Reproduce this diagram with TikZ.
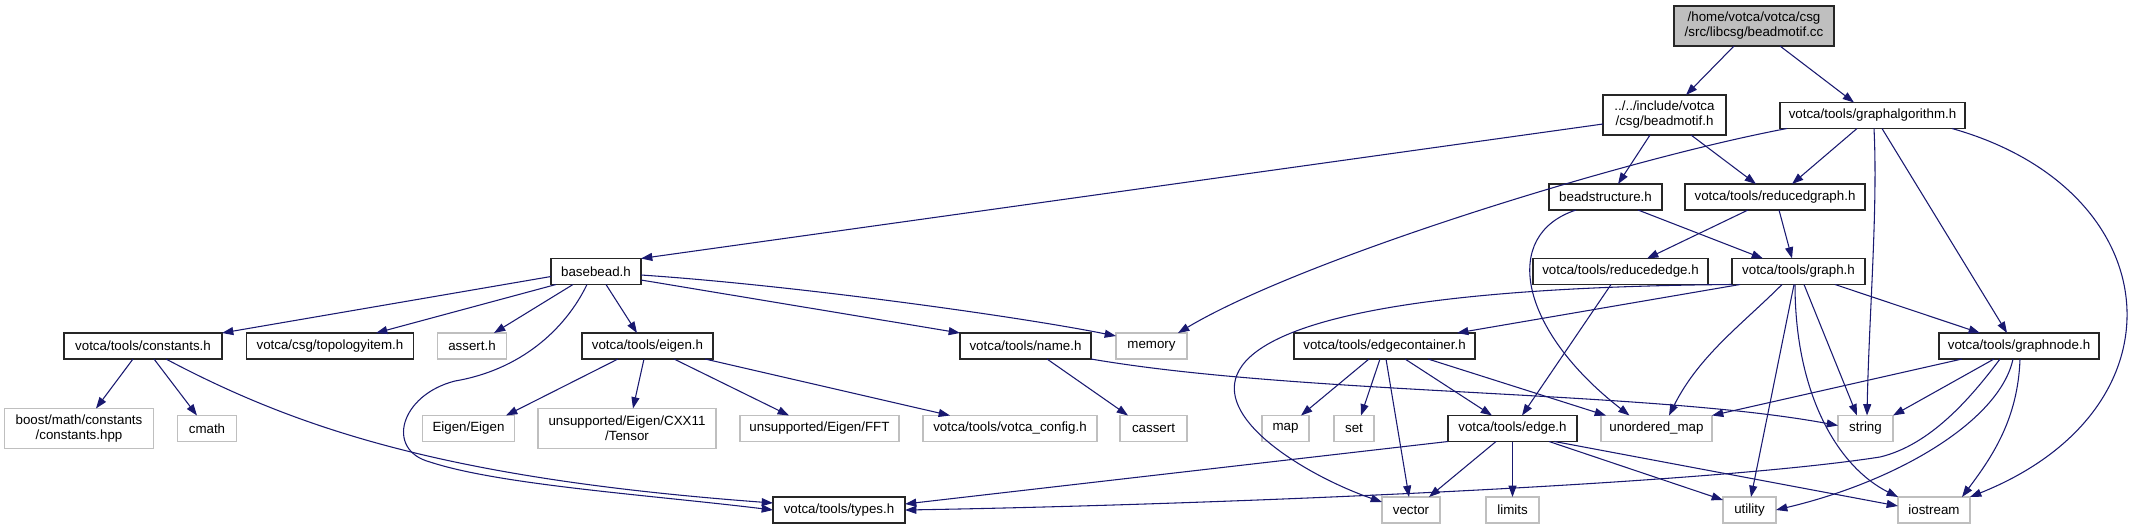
\documentclass[tikz,border=0pt]{standalone}
\usepackage{fontspec}
\setmainfont{Liberation Sans}
\usetikzlibrary{arrows.meta,calc}
\definecolor{edgeblue}{HTML}{191970}
\definecolor{gsevfive}{HTML}{BFBFBF}
\tikzset{
  every node/.style={font=\fontsize{10}{11.25}\selectfont, align=center, inner sep=0pt, outer sep=0pt},
  w/.style={minimum width=#1*0.75pt},
  nb/.style={draw=black!85, line width=0.8pt, fill=white, minimum height=26*0.75pt},
  ng/.style={draw=gsevfive, line width=0.8pt, fill=white, minimum height=26*0.75pt},
  two/.style={minimum height=40*0.75pt},
  rt/.style={draw=black!85, line width=0.8pt, fill=gsevfive, minimum height=40*0.75pt},
  e/.style={draw=edgeblue, line width=0.8pt, -{Triangle[length=8.5pt,width=6pt]}}
}
\begin{document}
\begin{tikzpicture}[x=0.75pt,y=-0.75pt]
\useasboundingbox (0,0) rectangle (2142,529);
% row 0-3
\node[rt, w=160] (root) at (1754,26) {/home/votca/votca/csg\\/src/libcsg/beadmotif.cc};
\node[nb, two, w=123] (bm) at (1664.5,115) {../../include/votca\\/csg/beadmotif.h};
\node[nb, w=185] (ga) at (1872.5,115.5) {votca/tools/graphalgorithm.h};
\node[nb, w=113] (bs) at (1605.5,197) {beadstructure.h};
\node[nb, w=180] (rg) at (1775,197) {votca/tools/reducedgraph.h};
\node[nb, w=90] (bb) at (596,271.5) {basebead.h};
\node[nb, w=175] (re) at (1620.5,271.5) {votca/tools/reducededge.h};
\node[nb, w=133] (gr) at (1798.5,271.5) {votca/tools/graph.h};
% row 4
\node[nb, w=158] (co) at (143,346) {votca/tools/constants.h};
\node[nb, w=167] (ti) at (330,346) {votca/csg/topologyitem.h};
\node[ng, w=69] (as) at (472,346) {assert.h};
\node[nb, w=131] (ei) at (647.5,346) {votca/tools/eigen.h};
\node[nb, w=131] (na) at (1025.5,346) {votca/tools/name.h};
\node[ng, w=71] (me) at (1151.5,346) {memory};
\node[nb, w=181] (ec) at (1384.5,346) {votca/tools/edgecontainer.h};
\node[nb, w=160] (gn) at (2019,346) {votca/tools/graphnode.h};
% row 5
\node[ng, two, w=149] (bo) at (79,428.5) {boost/math/constants\\/constants.hpp};
\node[ng, w=59] (cm) at (207,428.5) {cmath};
\node[ng, w=92] (ee) at (468.5,428.5) {Eigen/Eigen};
\node[ng, two, w=178] (te) at (627,428.5) {unsupported/Eigen/CXX11\\/Tensor};
\node[ng, w=159] (ff) at (819.5,428.5) {unsupported/Eigen/FFT};
\node[ng, w=174] (vc) at (1010,428.5) {votca/tools/votca\_config.h};
\node[ng, w=67] (ca) at (1153.5,428.5) {cassert};
\node[ng, w=47] (ma) at (1285.5,428.5) {map};
\node[ng, w=40] (se) at (1354,428.5) {set};
\node[nb, w=129] (ed) at (1512.5,428.5) {votca/tools/edge.h};
\node[ng, w=111] (um) at (1656.5,428.5) {unordered\_map};
\node[ng, w=55] (st) at (1865.5,428.5) {string};
% row 6
\node[nb, w=132] (ty) at (839,510) {votca/tools/types.h};
\node[ng, w=58] (ve) at (1411,510) {vector};
\node[ng, w=53] (li) at (1512.5,510) {limits};
\node[ng, w=53] (ut) at (1749.5,510) {utility};
\node[ng, w=72] (io) at (1934,510) {iostream};

% edges from root
\draw[e] ($(root.south)+(-20,0)$) -- ($(bm.north)+(21.5,0)$);
\draw[e] ($(root.south)+(26,0)$) -- ($(ga.north)+(-18.5,0)$);
% beadmotif
\draw[e] ($(bm.west)+(0,9)$) -- (bb.north east);
\draw[e] ($(bm.south)+(-14.5,0)$) -- ($(bs.north)+(12.5,0)$);
\draw[e] ($(bm.south)+(26.5,0)$) -- ($(rg.north)+(-19,0)$);
% graphalgorithm
\draw[e] ($(ga.south)+(-85.5,0)$) .. controls +(-167,31.5) and +(122,-73) .. ($(me.north)+(26.5,0)$);
\draw[e] ($(ga.south)+(-15.5,0)$) -- ($(rg.north)+(17,0)$);
\draw[e] ($(ga.south)+(1.5,0)$) .. controls +(4,80) and +(2,-100) .. ($(st.north)+(1.5,0)$);
\draw[e] ($(ga.south)+(9.5,0)$) -- ($(gn.north)+(-12,0)$);
\draw[e] ($(ga.south)+(79.5,0)$) .. controls +(218,61.5) and +(220,-88) .. (io.north east);
% beadstructure
\draw[e] ($(bs.south)+(32.5,0)$) -- ($(gr.north)+(-35.5,0)$);
\draw[e] ($(bs.south)+(-29.5,0)$) .. controls +(-76,25) and +(-110,-85.5) .. ($(um.north)+(-27,0)$);
% reducedgraph
\draw[e] ($(rg.south)+(-27,0)$) -- ($(re.north)+(26.5,0)$);
\draw[e] ($(rg.south)+(4,0)$) -- ($(gr.north)+(-6.5,0)$);
% reducededge
\draw[e] ($(re.south)+(-9.5,0)$) -- ($(ed.north)+(9.5,0)$);
% graph
\draw[e] ($(gr.south)+(-58.5,0)$) -- ($(ec.north)+(72.5,0)$);
\draw[e] (gr.south west) .. controls +(-732,6) and +(-122,-42) .. ($(ve.north west)+(0,5)$);
\draw[e] ($(gr.south)+(-16.5,0)$) .. controls +(-40,40) and +(30,-60) .. ($(um.north)+(12.5,0)$);
\draw[e] ($(gr.south)+(-4.5,0)$) -- ($(ut.north)+(1.5,0)$);
\draw[e] ($(gr.south)+(-3.5,0)$) .. controls +(0,110) and +(-60,-30) .. (io.north west);
\draw[e] ($(gr.south)+(5.5,0)$) -- ($(st.north)+(-8.5,0)$);
\draw[e] ($(gr.south)+(36.5,0)$) -- ($(gn.north)+(-39,0)$);
% basebead
\draw[e] ($(bb.west)+(0,5)$) -- (co.north east);
\draw[e] ($(bb.south west)+(5,0)$) -- ($(ti.north)+(46,0)$);
\draw[e] ($(bb.south)+(-23,0)$) -- ($(as.north)+(22,0)$);
\draw[e] ($(bb.south)+(-9,0)$) .. controls (565,330) and (520,370) .. (455,381)
   .. controls (400,395) and (385,450) .. (430,462)
   .. controls (500,485) and (650,495) .. (ty.west);
\draw[e] ($(bb.south)+(10,0)$) -- ($(ei.north)+(-10.5,0)$);
\draw[e] ($(bb.east)+(0,8.5)$) -- (na.north west);
\draw[e] ($(bb.east)+(0,3.5)$) .. controls +(150,10) and +(-100,-20) .. ($(me.north west)+(0,3)$);
% constants
\draw[e] ($(co.south)+(-10,0)$) -- ($(bo.north)+(17,0)$);
\draw[e] ($(co.south)+(11,0)$) -- ($(cm.north)+(-10,0)$);
\draw[e] ($(co.south)+(23,0)$) .. controls +(134,71) and +(-323,-24) .. ($(ty.west)+(0,-7)$);
% eigen
\draw[e] ($(ei.south)+(-29.5,0)$) -- ($(ee.north)+(37.5,0)$);
\draw[e] ($(ei.south)+(-3.5,0)$) -- ($(te.north)+(6,0)$);
\draw[e] ($(ei.south)+(26.5,0)$) -- ($(ff.north)+(-30.5,0)$);
\draw[e] ($(ei.south)+(57.5,0)$) -- ($(vc.north)+(-60,0)$);
% name
\draw[e] ($(na.south)+(21.5,0)$) -- ($(ca.north)+(-25.5,0)$);
\draw[e] (na.south east) .. controls +(209,36) and +(-188,-35) .. ($(st.west)+(0,-3)$);
% edgecontainer
\draw[e] ($(ec.south)+(-15.5,0)$) -- ($(ma.north)+(15.5,0)$);
\draw[e] ($(ec.south)+(-4.5,0)$) -- ($(se.north)+(7,0)$);
\draw[e] ($(ec.south)+(1.5,0)$) -- ($(ve.north)+(-2,0)$);
\draw[e] ($(ec.south)+(20.5,0)$) -- ($(ed.north)+(-20.5,0)$);
\draw[e] ($(ec.south)+(43.5,0)$) -- ($(um.north west)+(5,0)$);
% edge
\draw[e] (ed.south west) -- ($(ty.east)+(0,-6)$);
\draw[e] ($(ed.south)+(-16.5,0)$) -- ($(ve.north)+(18,0)$);
\draw[e] (ed.south) -- (li.north);
\draw[e] ($(ed.south)+(36.5,0)$) -- ($(ut.north west)+(0,3)$);
\draw[e] ($(ed.south)+(42,0)$) -- ($(io.west)+(0,-4)$);
% graphnode
\draw[e] ($(gn.south)+(-57,0)$) -- (um.north east);
\draw[e] ($(gn.south)+(-25,0)$) -- (st.north east);
\draw[e] ($(gn.south)+(-19,0)$) .. controls +(-30,40) and +(50,-12) .. (1880,457)
   .. controls (1700,485) and (1200,505) .. (ty.east);
\draw[e] ($(gn.south)+(-6,0)$) .. controls +(-13,61) and +(123,-29) .. (ut.east);
\draw[e] ($(gn.south)+(1,0)$) .. controls +(-2,60) and +(30,-40) .. ($(io.north)+(28,0)$);
\end{tikzpicture}
\end{document}
